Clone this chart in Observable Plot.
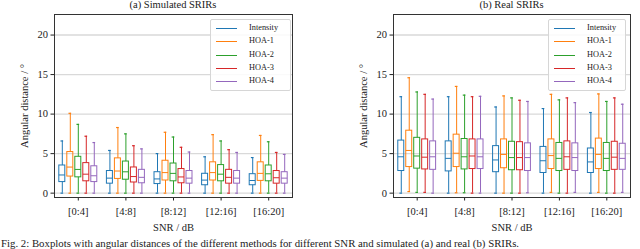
<!DOCTYPE html>
<html>
<head>
<meta charset="utf-8">
<script src="https://cdn.jsdelivr.net/npm/d3@7"></script>
<script src="https://cdn.jsdelivr.net/npm/@observablehq/plot@0.6"></script>
<style>
  html, body { margin: 0; padding: 0; background: #fff; }
  #fig { position: relative; width: 640px; height: 249px; overflow: hidden; font-family: "Liberation Serif", "DejaVu Serif", serif; color: #222; }
  .panel { position: absolute; top: 0; }
  .title { position: absolute; top: -1px; font-size: 10.5px; white-space: nowrap; transform: translateX(-50%); }
  .legend { position: absolute; border: 1px solid #d6d6d6; border-radius: 2px; background: rgba(255,255,255,0.85); font-size: 8.3px; }
  .legend .row { position: absolute; left: 0; height: 13px; width: 100%; }
  .legend .sw { position: absolute; top: 6px; height: 0; border-top: 1.2px solid; }
  .legend .lab { position: absolute; top: 1px; }
  .caption { position: absolute; left: 1px; top: 238px; font-size: 10.8px; line-height: 11px; white-space: nowrap; }
</style>
</head>
<body>
<div id="fig"></div>
<script>
const groups = ["[0:4]", "[4:8]", "[8:12]", "[12:16]", "[16:20]"];
const methods = ["Intensity", "HOA-1", "HOA-2", "HOA-3", "HOA-4"];
const colors = ["#1f77b4", "#ff7f0e", "#2ca02c", "#d62728", "#9467bd"];
const yTicks = [0, 5, 10, 15, 20];
const panelTitles = ["(a) Simulated SRIRs", "(b) Real SRIRs"];

// Simulated SRIRs: rows = methods, columns = SNR groups
const simLo = [[0,0,0,0,0],[0,0,0,0,0],[0,0,0,0,0],[0,0,0,0,0],[0,0,0,0,0]];
const simQ1 = [[1.4,1.2,1.15,1.0,1.0],[2.1,1.8,1.6,1.6,1.55],[2.0,1.7,1.5,1.5,1.5],[1.5,1.35,1.25,1.2,1.2],[1.4,1.25,1.2,1.2,1.2]];
const simMed = [[2.3,1.9,1.8,1.65,1.6],[3.3,2.8,2.6,2.6,2.5],[3.0,2.7,2.5,2.4,2.45],[2.4,2.1,2.05,2.0,1.95],[2.2,2.0,1.9,1.9,1.9]];
const simQ3 = [[3.5,2.8,2.65,2.45,2.4],[5.2,4.4,4.1,3.9,3.9],[4.6,4.0,3.75,3.55,3.5],[3.8,3.25,3.05,2.95,2.8],[3.4,2.95,2.8,2.8,2.65]];
const simHi = [[6.6,5.4,5.0,4.6,4.5],[10.1,8.3,7.7,7.4,7.3],[8.7,7.5,7.1,6.6,6.5],[7.2,6.0,5.8,5.5,5.15],[6.4,5.6,5.2,5.15,4.9]];

// Real SRIRs
const realLo = [[0,0,0,0,0],[0.2,0.05,0,0.1,0.1],[0.1,0.05,0,0,0],[0.1,0,0,0,0],[0,0,0.05,0.1,0.1]];
const realQ1 = [[2.8,2.75,2.65,2.55,2.55],[3.3,3.3,3.15,3.05,3.05],[3.1,3.0,2.9,2.8,2.8],[3.0,3.05,2.9,2.95,2.95],[2.95,3.05,2.8,2.8,2.95]];
const realMed = [[4.6,4.4,4.2,4.1,3.95],[5.4,5.05,4.9,4.75,4.9],[4.7,4.6,4.5,4.4,4.4],[4.55,4.7,4.5,4.6,4.55],[4.6,4.6,4.5,4.5,4.4]];
const realQ3 = [[6.65,6.55,5.95,5.85,5.65],[7.9,7.4,6.8,6.8,6.9],[7.0,6.85,6.5,6.35,6.35],[6.8,6.8,6.45,6.55,6.5],[6.55,6.8,6.3,6.3,6.25]];
const realHi = [[12.2,12.2,10.9,10.7,10.2],[14.6,13.5,12.3,12.5,12.55],[12.8,12.4,12.05,11.8,11.6],[12.5,12.2,11.75,12.05,12.05],[11.9,12.25,11.6,11.45,11.25]];

const captionText = "Fig. 2: Boxplots with angular distances of the different methods for different SNR and simulated (a) and real (b) SRIRs.";

// layout (in x-scale units: one SNR group = 1)
const boxStep = 0.168, boxHalf = 0.063, capHalf = 0.028;

function rowsFor(lo, q1, med, q3, hi) {
  const rows = [];
  methods.forEach((m, mi) => groups.forEach((g, gi) => {
    rows.push({method: m, group: g, x: gi + (mi - 2) * boxStep,
      lo: lo[mi][gi], q1: q1[mi][gi], med: med[mi][gi], q3: q3[mi][gi], hi: hi[mi][gi]});
  }));
  return rows;
}

function panel(rows, ml, mr) {
  return Plot.plot({
    width: 320, height: 249,
    marginLeft: ml, marginRight: mr, marginTop: 14, marginBottom: 52,
    style: {fontFamily: '"Liberation Serif", "DejaVu Serif", serif', fontSize: "10.5px", color: "#222", background: "transparent"},
    x: {type: "linear", domain: [-0.5, 4.5], ticks: [0, 1, 2, 3, 4], tickFormat: i => groups[i], tickSize: 3.5, tickPadding: 7,
        label: "SNR / dB", labelAnchor: "center", labelOffset: 33, labelArrow: "none"},
    y: {domain: [-0.55, 22.6], ticks: yTicks, tickSize: 3.5, tickPadding: 3,
        label: "Angular distance / °", labelAnchor: "center", labelOffset: 34, labelArrow: "none"},
    color: {domain: methods, range: colors},
    marks: [
      Plot.ruleY(yTicks, {stroke: "#d9d9d9", strokeWidth: 1.4}),
      Plot.ruleX(rows, {x: "x", y1: "lo", y2: "q1", stroke: "method", strokeWidth: 1}),
      Plot.ruleX(rows, {x: "x", y1: "q3", y2: "hi", stroke: "method", strokeWidth: 1}),
      Plot.rect(rows, {x1: d => d.x - boxHalf, x2: d => d.x + boxHalf, y1: "q1", y2: "q3", stroke: "method", fill: "none", strokeWidth: 1}),
      Plot.ruleY(rows, {y: "med", x1: d => d.x - boxHalf, x2: d => d.x + boxHalf, stroke: "method", strokeWidth: 1}),
      Plot.ruleY(rows, {y: "lo", x1: d => d.x - capHalf, x2: d => d.x + capHalf, stroke: "method", strokeWidth: 1.2}),
      Plot.ruleY(rows, {y: "hi", x1: d => d.x - capHalf, x2: d => d.x + capHalf, stroke: "method", strokeWidth: 1.2}),
      Plot.frame({stroke: "#333", strokeWidth: 1})
    ]
  });
}

const fig = document.getElementById("fig");
const specs = [
  {rows: rowsFor(simLo, simQ1, simMed, simQ3, simHi), left: 0, ml: 54, mr: 28, legend: {x: 210, w: 79, sw: 5, lab: 38}},
  {rows: rowsFor(realLo, realQ1, realMed, realQ3, realHi), left: 320, ml: 73, mr: 10, legend: {x: 548, w: 76, sw: 5, lab: 38}}
];
specs.forEach((s, i) => {
  const wrap = document.createElement("div");
  wrap.className = "panel";
  wrap.style.left = s.left + "px";
  wrap.appendChild(panel(s.rows, s.ml, s.mr));
  fig.appendChild(wrap);

  const t = document.createElement("div");
  t.className = "title";
  t.textContent = panelTitles[i];
  t.style.left = (s.left + s.ml + (320 - s.ml - s.mr) / 2) + "px";
  fig.appendChild(t);

  const lg = document.createElement("div");
  lg.className = "legend";
  lg.style.left = s.legend.x + "px";
  lg.style.top = "19px";
  lg.style.width = s.legend.w + "px";
  lg.style.height = "70px";
  methods.forEach((m, mi) => {
    const r = document.createElement("div");
    r.className = "row";
    r.style.top = (2 + mi * 13.25) + "px";
    const sw = document.createElement("div");
    sw.className = "sw";
    sw.style.left = s.legend.sw + "px";
    sw.style.width = "21px";
    sw.style.borderTopColor = colors[mi];
    const lab = document.createElement("div");
    lab.className = "lab";
    lab.style.left = s.legend.lab + "px";
    lab.textContent = m;
    r.appendChild(sw); r.appendChild(lab);
    lg.appendChild(r);
  });
  fig.appendChild(lg);
});

const cap = document.createElement("div");
cap.className = "caption";
cap.textContent = captionText;
fig.appendChild(cap);
</script>
</body>
</html>
